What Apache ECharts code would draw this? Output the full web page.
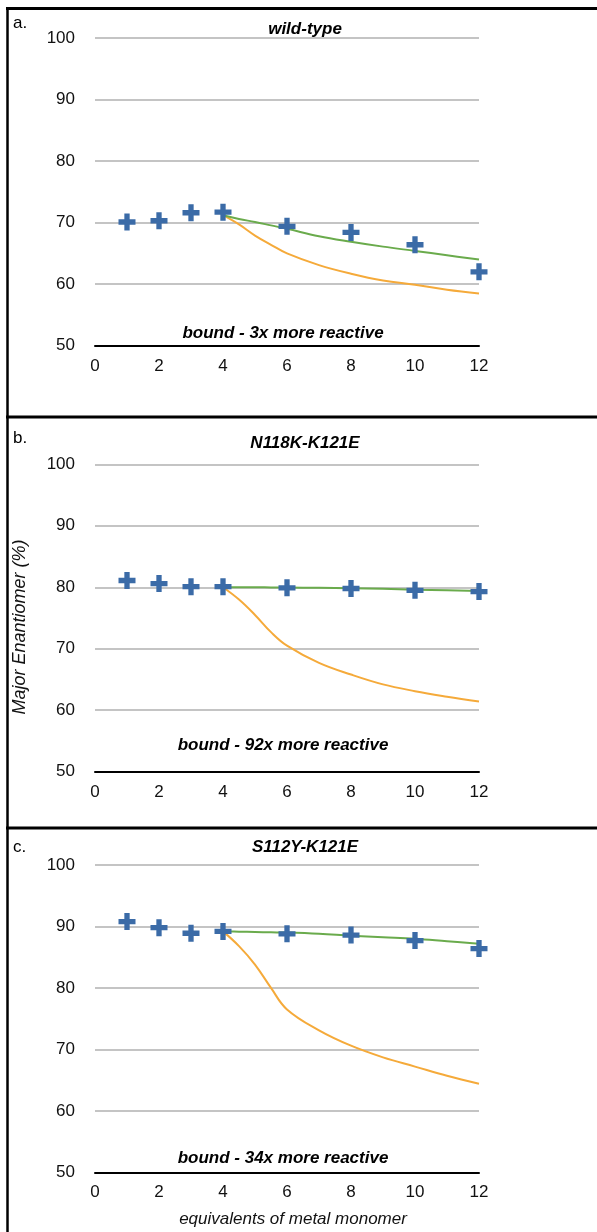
<!DOCTYPE html>
<html>
<head>
<meta charset="utf-8">
<script src="https://cdn.jsdelivr.net/npm/echarts@6/dist/echarts.min.js"></script>
<style>
html,body{margin:0;padding:0;background:#fff;}
#chart{width:597px;height:1232px;}
</style>
</head>
<body>
<div id="chart"></div>
<script>
// ---- data ----
const measuredX = [1, 2, 3, 4, 6, 8, 10, 12];
const fitX = [4, 4.5, 5, 5.5, 6, 7, 8, 9, 10, 11, 12];

const panelTitles = ['wild-type', 'N118K-K121E', 'S112Y-K121E'];
const panelLetters = ['a.', 'b.', 'c.'];
const boundNotes = ['bound - 3x more reactive', 'bound - 92x more reactive', 'bound - 34x more reactive'];

const wtMeasured = [70.1, 70.3, 71.6, 71.7, 69.4, 68.4, 66.4, 62.0];
const wtGreen = [71.2, 70.6, 70.1, 69.55, 69.0, 67.8, 66.9, 66.1, 65.4, 64.7, 64.0];
const wtOrange = [71.2, 69.7, 67.9, 66.4, 65.0, 63.1, 61.7, 60.6, 59.9, 59.1, 58.5];

const nkMeasured = [81.1, 80.6, 80.1, 80.1, 79.9, 79.8, 79.5, 79.3];
const nkGreen = [80.0, 80.0, 80.0, 79.97, 79.95, 79.9, 79.85, 79.75, 79.6, 79.5, 79.4];
const nkOrange = [80.0, 78.0, 75.5, 72.7, 70.5, 67.7, 65.8, 64.2, 63.1, 62.2, 61.4];

const syMeasured = [90.8, 89.8, 88.9, 89.2, 88.8, 88.6, 87.7, 86.4];
const syGreen = [89.2, 89.15, 89.1, 89.05, 89.0, 88.8, 88.5, 88.25, 88.0, 87.6, 87.2];
const syOrange = [89.2, 86.8, 83.8, 80.0, 76.5, 73.1, 70.6, 68.7, 67.2, 65.7, 64.4];

const xTicks = {min: 0, max: 12, interval: 2};
const yTicks = {min: 50, max: 100, interval: 10};

const yAxisName = 'Major Enantiomer (%)';
const xAxisName = 'equivalents of metal monomer';

// ---- layout / style ----
const FONT = '"Liberation Sans", Arial, Helvetica, sans-serif';
const BLUE = '#3b6ba7';
const GREEN = '#6aab4c';
const ORANGE = '#f5aa3a';
const PLUS = 'path://M5.5,0H10.5V5.5H16V10.5H10.5V16H5.5V10.5H0V5.5H5.5Z';

const grids = [
  {left: 95, width: 384, top: 38, height: 307.7, outerBoundsMode: 'none', containLabel: false},
  {left: 95, width: 384, top: 464.3, height: 307.4, outerBoundsMode: 'none', containLabel: false},
  {left: 95, width: 384, top: 865, height: 307.3, outerBoundsMode: 'none', containLabel: false}
];
const titleY = [29, 443, 847];
const noteY = [333, 745, 1158];
const letterY = [23, 438, 847];

const measuredSets = [wtMeasured, nkMeasured, syMeasured];
const greenSets = [wtGreen, nkGreen, syGreen];
const orangeSets = [wtOrange, nkOrange, syOrange];

const pair = (xs, ys) => xs.map((x, i) => [x, ys[i]]);

const xAxes = grids.map((g, i) => ({
  type: 'value', gridIndex: i,
  min: xTicks.min, max: xTicks.max, interval: xTicks.interval,
  axisLine: {show: true, lineStyle: {color: '#000', width: 2}},
  axisTick: {show: false},
  splitLine: {show: false},
  axisLabel: {fontFamily: FONT, fontSize: 17, color: '#111', margin: 12},
  name: i === 2 ? xAxisName : '',
  nameLocation: 'middle', nameGap: 38,
  nameTextStyle: {fontFamily: FONT, fontSize: 17, fontStyle: 'italic', color: '#111', padding: [0, 0, 0, 12]}
}));
const yAxes = grids.map((g, i) => ({
  type: 'value', gridIndex: i,
  min: yTicks.min, max: yTicks.max, interval: yTicks.interval,
  axisLine: {show: false},
  axisTick: {show: false},
  splitLine: {show: true, lineStyle: {color: '#c4c4c4', width: 2}},
  axisLabel: {fontFamily: FONT, fontSize: 17, color: '#111', margin: 20},
  name: i === 1 ? yAxisName : '',
  nameLocation: 'middle', nameGap: 66, nameRotate: 90,
  nameTextStyle: {fontFamily: FONT, fontSize: 18, fontStyle: 'italic', color: '#111', padding: [0, 18, 0, 0]}
}));

const series = [];
grids.forEach((g, i) => {
  series.push({
    type: 'line', xAxisIndex: i, yAxisIndex: i,
    data: pair(fitX, orangeSets[i]), smooth: 0.4,
    showSymbol: false, lineStyle: {color: ORANGE, width: 2}, z: 2, silent: true
  });
  series.push({
    type: 'line', xAxisIndex: i, yAxisIndex: i,
    data: pair(fitX, greenSets[i]), smooth: 0.4,
    showSymbol: false, lineStyle: {color: GREEN, width: 2}, z: 3, silent: true
  });
  series.push({
    type: 'scatter', xAxisIndex: i, yAxisIndex: i,
    data: pair(measuredX, measuredSets[i]),
    symbol: PLUS, symbolSize: 17,
    itemStyle: {color: BLUE, opacity: 1}, z: 4, silent: true
  });
});

const titles = [];
grids.forEach((g, i) => {
  titles.push({
    text: panelTitles[i], left: 305, top: titleY[i], textAlign: 'center', textVerticalAlign: 'middle', padding: 0,
    textStyle: {fontFamily: FONT, fontSize: 17, fontWeight: 'bold', fontStyle: 'italic', color: '#000'}
  });
  titles.push({
    text: boundNotes[i], left: 283, top: noteY[i], textAlign: 'center', textVerticalAlign: 'middle', padding: 0,
    textStyle: {fontFamily: FONT, fontSize: 17, fontWeight: 'bold', fontStyle: 'italic', color: '#000'}
  });
  titles.push({
    text: panelLetters[i], left: 13, top: letterY[i], textAlign: 'left', textVerticalAlign: 'middle', padding: 0,
    textStyle: {fontFamily: FONT, fontSize: 17, fontWeight: 'normal', color: '#000'}
  });
});

const frame = [
  {type: 'line', shape: {x1: 6, y1: 8.5, x2: 597, y2: 8.5}, style: {stroke: '#000', lineWidth: 3}},
  {type: 'line', shape: {x1: 7.5, y1: 7, x2: 7.5, y2: 1232}, style: {stroke: '#000', lineWidth: 2.5}},
  {type: 'line', shape: {x1: 6, y1: 417, x2: 597, y2: 417}, style: {stroke: '#000', lineWidth: 3}},
  {type: 'line', shape: {x1: 6, y1: 828, x2: 597, y2: 828}, style: {stroke: '#000', lineWidth: 3}}
];

const chart = echarts.init(document.getElementById('chart'), null, {renderer: 'canvas'});
chart.setOption({
  backgroundColor: '#fff',
  animation: false,
  title: titles,
  grid: grids,
  xAxis: xAxes,
  yAxis: yAxes,
  series: series,
  graphic: frame
});
</script>
</body>
</html>
